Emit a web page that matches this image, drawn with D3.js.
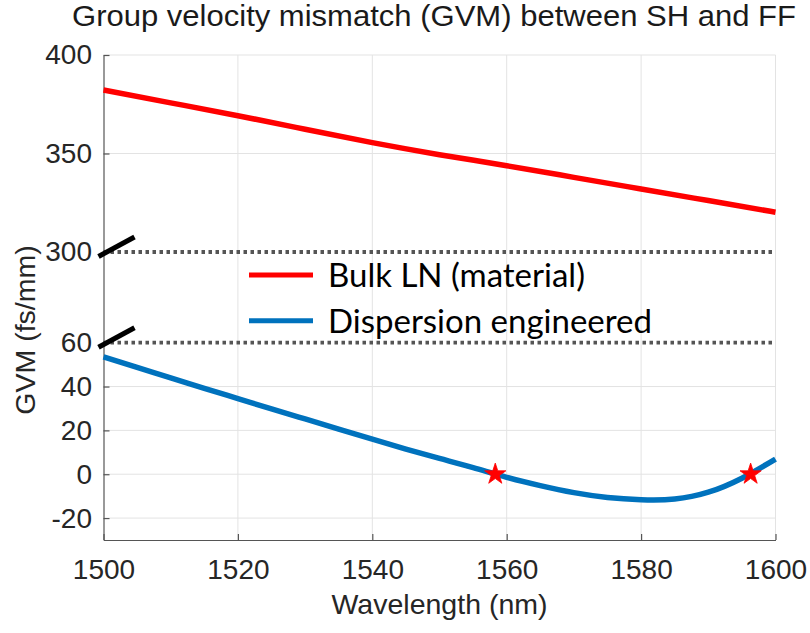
<!DOCTYPE html>
<html>
<head>
<meta charset="utf-8">
<script src="https://cdn.jsdelivr.net/npm/d3@7"></script>
<style>
  html, body { margin: 0; padding: 0; background: #fff; }
  svg { display: block; }
</style>
</head>
<body>
<svg id="chart" width="810" height="633"></svg>
<script>
// Bulk lithium niobate GVM, sampled every 10 nm
const bulkWavelength = [1500, 1510, 1520, 1530, 1540, 1550, 1560, 1570, 1580, 1590, 1600];
const bulkGVM = [382.2, 375.7, 369.2, 362.3, 355.5, 349.4, 343.8, 337.9, 332.0, 326.1, 320.2];

// Dispersion-engineered waveguide GVM, sampled every 5 nm
const engWavelength = [1500, 1505, 1510, 1515, 1520, 1525, 1530, 1535, 1540, 1545, 1550,
                       1555, 1560, 1565, 1570, 1575, 1580, 1585, 1590, 1595, 1600];
const engGVM = [53.5, 48.7, 44.0, 39.2, 34.5, 29.8, 25.2, 20.6, 16.0, 11.5, 7.2,
                3.0, -1.4, -5.2, -8.4, -10.6, -11.6, -11.3, -8.2, -1.8, 6.9];

// Zero-GVM points marked with stars
const zeroWavelength = [1558.3, 1596.3];
const zeroGVM = [0, 0];

// Axis ticks
const xTicks = [1500, 1520, 1540, 1560, 1580, 1600];
const yTicks = [-20, 0, 20, 40, 60, 300, 350, 400];
const yBreaks = [60, 300];

const seriesNames = ["Bulk LN (material)", "Dispersion engineered"];
const seriesColors = ["#ff0000", "#0072BD"];

const titleText = "Group velocity mismatch (GVM) between SH and FF";
const xLabel = "Wavelength (nm)";
const yLabel = "GVM (fs/mm)";

const svg = d3.select("#chart");
const axisFont = "'Liberation Sans', Arial, Helvetica, sans-serif";
const textColor = "#262626";

const x = d3.scaleLinear().domain([1500, 1600]).range([103.5, 775.5]);
// Broken axis: lower panel -30..60, upper panel 300..400
const y = d3.scaleLinear().domain([-30, 60, 300, 400]).range([540, 342.7, 252, 55]);

const [x0, x1] = x.range();

// Grid
const grid = svg.append("g").attr("stroke", "#e3e3e3").attr("stroke-width", 1);
grid.selectAll("line.gx")
  .data(xTicks.slice(1))
  .join("line")
  .attr("x1", d => x(d)).attr("x2", d => x(d))
  .attr("y1", y(-30)).attr("y2", y(400));
grid.selectAll("line.gy")
  .data(yTicks.filter(v => !yBreaks.includes(v)))
  .join("line")
  .attr("x1", x0).attr("x2", x1)
  .attr("y1", d => y(d)).attr("y2", d => y(d));

// Dotted lines marking the break edges
svg.append("g").selectAll("line")
  .data(yBreaks)
  .join("line")
  .attr("x1", x0).attr("x2", x1)
  .attr("y1", d => y(d)).attr("y2", d => y(d))
  .attr("stroke", "#555")
  .attr("stroke-width", 3.8)
  .attr("stroke-dasharray", "3.5,3.5");

// Axes with inward ticks
const plainNumber = d => String(d);
const yAxis = svg.append("g")
  .attr("transform", `translate(${x0},0)`)
  .call(d3.axisLeft(y).tickValues(yTicks).tickFormat(plainNumber)
    .tickSizeInner(-6).tickSizeOuter(0).tickPadding(11.5));
const xAxis = svg.append("g")
  .attr("transform", `translate(0,${y(-30)})`)
  .call(d3.axisBottom(x).tickValues(xTicks).tickFormat(plainNumber)
    .tickSizeInner(-6).tickSizeOuter(0).tickPadding(19.5));

[yAxis, xAxis].forEach(g => {
  g.selectAll("path.domain").attr("stroke", "#555").attr("stroke-width", 1.2);
  g.selectAll(".tick line").attr("stroke", "#555").attr("stroke-width", 1.2);
  g.selectAll(".tick text")
    .attr("fill", textColor)
    .style("font-family", axisFont)
    .style("font-size", "28px");
});

// Data lines
const bulkLine = d3.line()
  .x((d, i) => x(bulkWavelength[i]))
  .y(d => y(d))
  .curve(d3.curveNatural);
const engLine = d3.line()
  .x((d, i) => x(engWavelength[i]))
  .y(d => y(d))
  .curve(d3.curveNatural);

svg.append("path")
  .attr("d", bulkLine(bulkGVM))
  .attr("fill", "none")
  .attr("stroke", seriesColors[0])
  .attr("stroke-width", 5.5);

svg.append("path")
  .attr("d", engLine(engGVM))
  .attr("fill", "none")
  .attr("stroke", seriesColors[1])
  .attr("stroke-width", 5.5);

// Stars at zero GVM
const star = d3.symbol().type(d3.symbolStar).size(140);
svg.append("g").selectAll("path")
  .data(zeroWavelength)
  .join("path")
  .attr("d", star)
  .attr("transform", (d, i) => `translate(${x(d)},${y(zeroGVM[i])})`)
  .attr("fill", "#ff0000")
  .attr("stroke", "#ff0000")
  .attr("stroke-width", 0.8);

// Break marks on the y axis
svg.append("g").selectAll("line")
  .data(yBreaks)
  .join("line")
  .attr("x1", x0 - 5).attr("y1", d => y(d) + 4.5)
  .attr("x2", x0 + 31).attr("y2", d => y(d) - 15)
  .attr("stroke", "#000")
  .attr("stroke-width", 5);

// Legend
const legend = svg.append("g");
const legendRows = legend.selectAll("g")
  .data(seriesNames)
  .join("g")
  .attr("transform", (d, i) => `translate(249,${275 + i * 45.7})`);
legendRows.append("line")
  .attr("x1", 0).attr("x2", 64)
  .attr("y1", 0).attr("y2", 0)
  .attr("stroke", (d, i) => seriesColors[i])
  .attr("stroke-width", 5);
legendRows.append("text")
  .attr("x", 79).attr("y", 12)
  .attr("fill", "#000")
  .style("font-family", "Lato, 'Open Sans', sans-serif")
  .style("font-size", "33px")
  .text(d => d);

// Title and axis labels
svg.append("text")
  .attr("x", 72)
  .attr("y", 26)
  .attr("text-anchor", "start")
  .attr("textLength", 724)
  .attr("lengthAdjust", "spacingAndGlyphs")
  .attr("fill", "#1a1a1a")
  .style("font-family", axisFont)
  .style("font-size", "30px")
  .text(titleText);

svg.append("text")
  .attr("x", (x0 + x1) / 2)
  .attr("y", 614)
  .attr("text-anchor", "middle")
  .attr("fill", textColor)
  .style("font-family", axisFont)
  .style("font-size", "28.5px")
  .text(xLabel);

svg.append("text")
  .attr("transform", "translate(35,330) rotate(-90)")
  .attr("text-anchor", "middle")
  .attr("fill", textColor)
  .style("font-family", axisFont)
  .style("font-size", "28.5px")
  .text(yLabel);
</script>
</body>
</html>
